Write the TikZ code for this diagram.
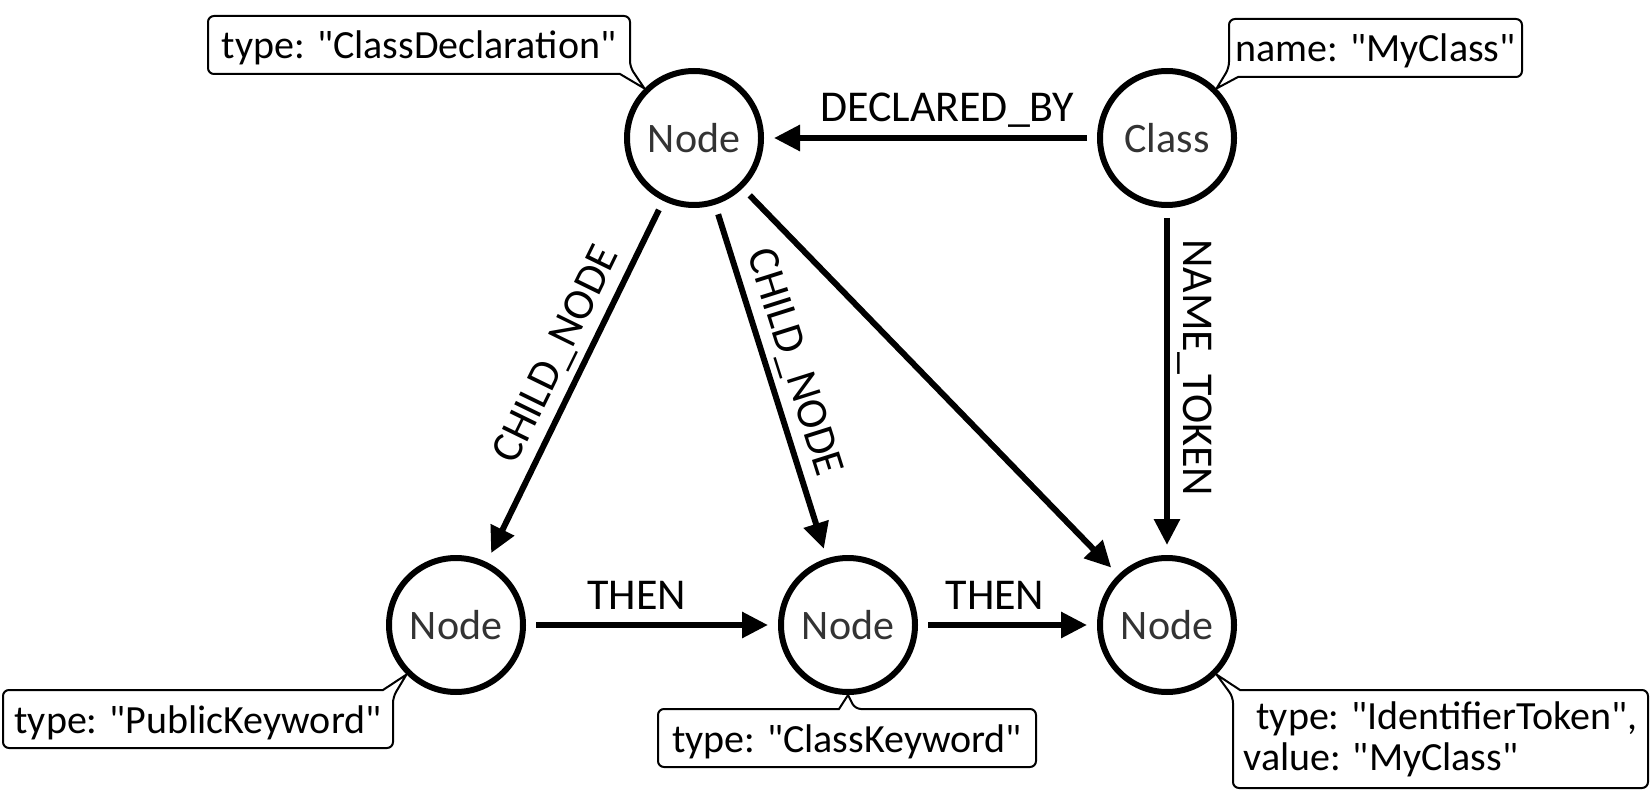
\documentclass[tikz,border=0pt]{standalone}
\usepackage{fontspec}
\setmainfont{Carlito}[Ligatures=TeXOff]
\usetikzlibrary{arrows.meta,calc}
\definecolor{nodegray}{HTML}{333333}
\begin{document}
\begin{tikzpicture}[x=1pt,y=-1pt,
  gnode/.style={circle,draw=black,line width=6pt,minimum size=134pt,inner sep=0pt,
    text=nodegray,font=\fontsize{42}{48}\selectfont},
  rel/.style={line width=6pt,-{Triangle[length=26pt,width=25pt]},shorten <=10pt,shorten >=10pt},
  rlabel/.style={font=\fontsize{44}{48}\selectfont,inner sep=0pt,text depth=0pt,above=13pt},
  callout/.style={draw=none,outer sep=0pt,inner xsep=6pt,inner ysep=0pt,anchor=north west,
    font=\fontsize{40}{41}\selectfont,text height=28pt,text depth=0pt},
  ptr/.style={line width=2pt,line join=miter}]
\useasboundingbox (0,0) rectangle (1650,802);

% graph nodes
\node[gnode] (A) at (694,138) {Node};
\node[gnode] (B) at (1167,138) {Class};
\node[gnode] (C) at (456,625) {Node};
\node[gnode] (D) at (848,625) {Node};
\node[gnode] (E) at (1167,625) {Node};

% relationships
\draw[rel] (B) -- node[rlabel,pos=0.45] {DECLARED\_BY} (A);
\draw[rel] (A) -- node[rlabel,sloped,pos=0.46] {CHILD\_NODE} (C);
\draw[rel] (A) -- node[rlabel,sloped,pos=0.47] {CHILD\_NODE} (D);
\draw[rel] (A) -- (E);
\draw[rel] (B) -- node[rlabel,sloped,pos=0.46] {NAME\_TOKEN} (E);
\draw[rel] (C) -- node[rlabel,pos=0.44] {THEN} (D);
\draw[rel] (D) -- node[rlabel,pos=0.43] {THEN} (E);

% callouts
\node[callout,minimum width=422pt,minimum height=58pt] (cb1) at (208,16) {type: "ClassDeclaration"};
\coordinate (h1) at ($(cb1.south east)+(-10,0)$);
\coordinate (v1) at ($(cb1.south east)+(0,-7)$);
\draw[ptr] (h1) [rounded corners=6pt] -- (cb1.south west) -- (cb1.north west) -- (cb1.north east) -- (v1) [sharp corners] -- (A.135) -- cycle;

\node[callout,minimum width=293pt,minimum height=58pt] (cb2) at (1229,19) {name: "MyClass"};
\coordinate (h2) at ($(cb2.south west)+(9,0)$);
\coordinate (v2) at ($(cb2.south west)+(0,-9)$);
\draw[ptr] (h2) [rounded corners=6pt] -- (cb2.south east) -- (cb2.north east) -- (cb2.north west) -- (v2) [sharp corners] -- (B.45) -- cycle;

\node[callout,minimum width=390pt,minimum height=58pt] (cb3) at (3,690) {type: "PublicKeyword"};
\coordinate (h3) at ($(cb3.north east)+(-10,0)$);
\coordinate (v3) at ($(cb3.north east)+(0,7)$);
\draw[ptr] (h3) [rounded corners=6pt] -- (cb3.north west) -- (cb3.south west) -- (cb3.south east) -- (v3) [sharp corners] -- (C.225) -- cycle;

\node[callout,minimum width=378pt,minimum height=58pt] (cb4) at (658,709) {type: "ClassKeyword"};
\coordinate (h4a) at ($(cb4.north)+(-8,0)$);
\coordinate (h4b) at ($(cb4.north)+(8,0)$);
\draw[ptr] (h4a) [rounded corners=6pt] -- (cb4.north west) -- (cb4.south west) -- (cb4.south east) -- (cb4.north east) -- (h4b) [sharp corners] -- (D.south) -- cycle;

\node[callout,minimum width=415pt,minimum height=98pt,text height={},text depth={},align=left,inner xsep=9pt] (cb5) at (1233,690)
  {\hspace*{13pt}type: "IdentifierToken",\\value: "MyClass"};
\coordinate (h5) at ($(cb5.north west)+(7,0)$);
\coordinate (v5) at ($(cb5.north west)+(0,7)$);
\draw[ptr] (h5) [rounded corners=6pt] -- (cb5.north east) -- (cb5.south east) -- (cb5.south west) -- (v5) [sharp corners] -- (E.315) -- cycle;
\end{tikzpicture}
\end{document}
